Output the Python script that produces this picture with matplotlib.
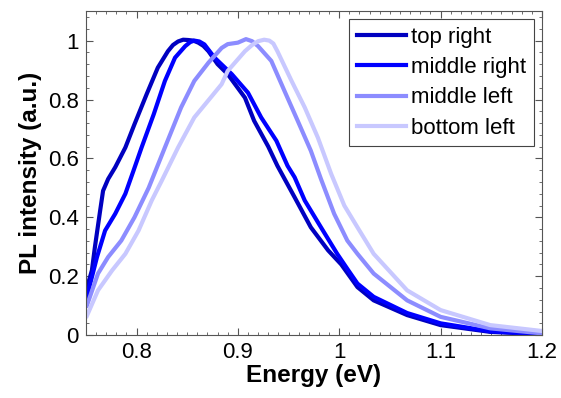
import numpy as np
import matplotlib
matplotlib.use('Agg')
from matplotlib import pyplot as plt
from matplotlib.ticker import MultipleLocator

plt.rcParams['font.family'] = ['Liberation Sans', 'DejaVu Sans']

# PL spectra (energy in eV, normalised intensity)
e_top_right = [0.751, 0.756, 0.759, 0.764, 0.767, 0.772, 0.779, 0.789, 0.798, 0.81, 0.821, 0.831,
               0.836, 0.841, 0.846, 0.851, 0.856, 0.861, 0.866, 0.871, 0.880, 0.890, 0.907, 0.916,
               0.930, 0.939, 0.956, 0.972, 0.989, 1.002, 1.018, 1.034, 1.067, 1.10, 1.149, 1.2]
i_top_right = [0.16, 0.22, 0.30, 0.42, 0.49, 0.53, 0.57, 0.637, 0.716, 0.818, 0.908, 0.964,
               0.985, 0.997, 1.003, 1.002, 1.0, 0.993, 0.982, 0.964, 0.92, 0.886, 0.806, 0.728,
               0.64, 0.575, 0.468, 0.366, 0.288, 0.24, 0.163, 0.118, 0.068, 0.034, 0.011, 0.003]

e_mid_right = [0.751, 0.761, 0.769, 0.779, 0.789, 0.797, 0.805, 0.817, 0.828, 0.838, 0.848, 0.853,
               0.857, 0.862, 0.867, 0.877, 0.894, 0.91, 0.923, 0.938, 0.949, 0.956, 0.966, 0.982,
               0.998, 1.008, 1.018, 1.034, 1.067, 1.10, 1.149, 1.2]
i_mid_right = [0.13, 0.265, 0.355, 0.412, 0.48, 0.558, 0.637, 0.75, 0.863, 0.942, 0.981, 0.995,
               1.0, 0.997, 0.987, 0.942, 0.886, 0.823, 0.739, 0.66, 0.575, 0.536, 0.457, 0.366,
               0.276, 0.225, 0.175, 0.13, 0.075, 0.04, 0.013, 0.003]

e_mid_left = [0.751, 0.762, 0.772, 0.785, 0.798, 0.812, 0.828, 0.844, 0.857, 0.871, 0.884, 0.89,
              0.90, 0.908, 0.914, 0.92, 0.933, 0.946, 0.959, 0.972, 0.982, 0.995, 1.008, 1.018,
              1.034, 1.067, 1.10, 1.149, 1.2]
i_mid_left = [0.10, 0.209, 0.265, 0.321, 0.40, 0.50, 0.637, 0.773, 0.863, 0.925, 0.975, 0.988,
              0.993, 1.005, 0.998, 0.981, 0.931, 0.829, 0.728, 0.626, 0.53, 0.412, 0.321, 0.276,
              0.209, 0.118, 0.062, 0.023, 0.006]

e_bot_left = [0.751, 0.762, 0.776, 0.789, 0.802, 0.815, 0.825, 0.841, 0.857, 0.874, 0.884, 0.89,
              0.907, 0.914, 0.92, 0.926, 0.931, 0.935, 0.939, 0.953, 0.966, 0.979, 0.992, 1.005,
              1.018, 1.034, 1.067, 1.10, 1.149, 1.2]
i_bot_left = [0.065, 0.152, 0.22, 0.276, 0.355, 0.457, 0.525, 0.637, 0.739, 0.81, 0.852, 0.897,
              0.964, 0.985, 0.998, 1.003, 1.0, 0.99, 0.964, 0.863, 0.773, 0.67, 0.548, 0.44,
              0.366, 0.276, 0.152, 0.085, 0.034, 0.014]

labels = ['top right', 'middle right', 'middle left', 'bottom left']
colors = ['#0000c0', '#0000ff', '#8c8cff', '#c8c8ff']

fig = plt.figure(figsize=(5.61, 3.98), dpi=100)
ax = fig.add_axes([0.153, 0.158, 0.813, 0.814])

curves = [(e_top_right, i_top_right), (e_mid_right, i_mid_right),
          (e_mid_left, i_mid_left), (e_bot_left, i_bot_left)]
for (e, i), lab, c in zip(curves, labels, colors):
    ax.plot(e, i, color=c, lw=3, label=lab, solid_joinstyle='round')

ax.set_xlim(0.75, 1.2)
ax.set_ylim(0, 1.1)
ax.xaxis.set_minor_locator(MultipleLocator(0.01))
ax.yaxis.set_minor_locator(MultipleLocator(0.04))
ax.set_xticks([0.8, 0.9, 1.0, 1.1, 1.2])
ax.set_xticklabels(['0.8', '0.9', '1', '1.1', '1.2'])
ax.set_yticks([0, 0.2, 0.4, 0.6, 0.8, 1.0])
ax.set_yticklabels(['0', '0.2', '0.4', '0.6', '0.8', '1'])
ax.tick_params(which='both', direction='in', top=True, right=True, labelsize=16, color='#555555')
ax.tick_params(which='major', length=5, pad=5)
ax.tick_params(which='minor', length=2.5)
for sp in ax.spines.values():
    sp.set_color('#555555')

ax.set_xlabel('Energy (eV)', fontsize=17.5, fontweight='bold', labelpad=1)
ax.set_ylabel('PL intensity (a.u.)', fontsize=17.5, fontweight='bold', labelpad=4)

leg = ax.legend(loc='upper right', fontsize=16, handlelength=2.2, handletextpad=0.25,
                labelspacing=0.42, borderpad=0.35, borderaxespad=0.35, fancybox=False,
                framealpha=1, edgecolor='#444444')
leg.get_frame().set_linewidth(0.8)

fig.savefig('out.png', dpi=100)
